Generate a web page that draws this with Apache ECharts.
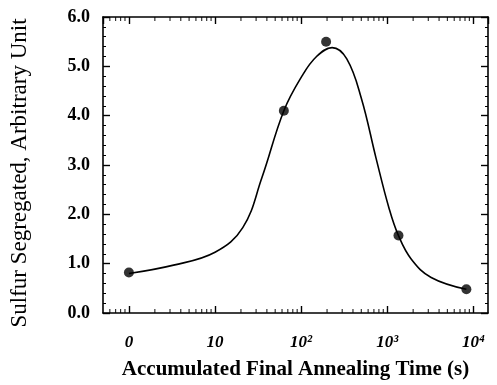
<!DOCTYPE html>
<html>
<head>
<meta charset="utf-8">
<script src="https://cdn.jsdelivr.net/npm/echarts@6/dist/echarts.min.js"></script>
<style>
  html, body { margin: 0; padding: 0; background: #fff; }
  #chart { width: 497px; height: 385px; }
</style>
</head>
<body>
<div id="chart"></div>
<script>
// measured points (time in s, 0 is drawn at the first decade slot)
const pointTimes = [0, 63, 195, 1350, 8300];
const pointValues = [0.82, 4.1, 5.5, 1.57, 0.48];

// hand-drawn fit curve
const curveTimes = [0, 3.3, 10, 21, 35, 63, 102, 151, 229, 339, 501, 741, 1047, 1349, 1905, 3236, 8300];
const curveValues = [0.8, 0.97, 1.23, 1.73, 2.74, 4.1, 4.8, 5.2, 5.38, 5.15, 4.35, 3.14, 2.13, 1.57, 1.09, 0.72, 0.48];

const yTicks = ['0.0', '1.0', '2.0', '3.0', '4.0', '5.0', '6.0'];
const xTickLabels = { 1: '0', 10: '10', 100: '10²', 1000: '10³', 10000: '10⁴' };

const font = '"Liberation Serif", "DejaVu Serif", serif';
const toAxis = t => (t === 0 ? 1 : t);

// log-style minor ticks between decades
const minorTimes = [];
[0.1, 1, 10, 100, 1000].forEach(d => {
  for (let m = 2; m <= 9; m++) {
    const v = m * d;
    if (v > 0.5) minorTimes.push(v);
  }
});

const chart = echarts.init(document.getElementById('chart'));

const xBase = {
  type: 'log',
  logBase: 10,
  min: 0.5,
  max: 14800,
  axisLine: { onZero: false, lineStyle: { color: '#000', width: 1.6 } },
  axisTick: { inside: true, length: 7, lineStyle: { color: '#000', width: 1.4 } },
  splitLine: { show: false },
};
const yBase = {
  type: 'value',
  min: 0,
  max: 6,
  interval: 1,
  axisLine: { show: true, onZero: false, lineStyle: { color: '#000', width: 1.6 } },
  axisTick: { show: true, inside: true, length: 7, lineStyle: { color: '#000', width: 1.4 } },
  minorTick: { show: true, splitNumber: 5, length: 3, lineStyle: { color: '#000', width: 1 } },
  splitLine: { show: false },
};

const option = {
  animation: false,
  backgroundColor: '#fff',
  grid: { left: 99, right: 9, top: 17, bottom: 68 },
  xAxis: [
    Object.assign({}, xBase, {
      position: 'bottom',
      name: 'Accumulated Final Annealing Time (s)',
      nameLocation: 'middle',
      nameGap: 46,
      nameTextStyle: { fontFamily: font, fontSize: 21, fontWeight: 'bold', color: '#000' },
      axisLabel: {
        margin: 21,
        showMinLabel: false,
        showMaxLabel: false,
        fontFamily: font,
        fontSize: 17,
        fontWeight: 'bold',
        fontStyle: 'italic',
        color: '#000',
        formatter: v => xTickLabels[Math.round(v)] || '',
      },
    }),
    Object.assign({}, xBase, { position: 'top', axisLabel: { show: false } }),
  ],
  yAxis: [
    Object.assign({}, yBase, {
      position: 'left',
      name: 'Sulfur Segregated, Arbitrary Unit',
      nameLocation: 'middle',
      nameGap: 72,
      nameTextStyle: { fontFamily: font, fontSize: 23, color: '#000', padding: [0, 16, 0, 0] },
      axisLabel: {
        margin: 13,
        fontFamily: font,
        fontSize: 18,
        fontWeight: 'bold',
        color: '#000',
        formatter: v => yTicks[Math.round(v)],
      },
    }),
    Object.assign({}, yBase, { position: 'right', axisLabel: { show: false } }),
  ],
  series: [
    {
      type: 'line',
      smooth: 0.4,
      showSymbol: false,
      data: curveTimes.map((t, i) => [toAxis(t), curveValues[i]]),
      lineStyle: { color: '#000', width: 1.6 },
      z: 2,
    },
    {
      type: 'scatter',
      symbol: 'circle',
      symbolSize: 10,
      data: pointTimes.map((t, i) => [toAxis(t), pointValues[i]]),
      itemStyle: { color: '#000' },
      z: 3,
    },
    {
      type: 'scatter',
      symbol: 'rect',
      symbolSize: [1.2, 4],
      symbolOffset: [0, -2],
      clip: false,
      silent: true,
      data: minorTimes.map(t => [t, 0]),
      itemStyle: { color: '#000' },
      z: 5,
    },
    {
      type: 'scatter',
      symbol: 'rect',
      symbolSize: [1.2, 4],
      symbolOffset: [0, 2],
      clip: false,
      silent: true,
      data: minorTimes.map(t => [t, 6]),
      itemStyle: { color: '#000' },
      z: 5,
    },
  ],
};

chart.setOption(option);
</script>
</body>
</html>
